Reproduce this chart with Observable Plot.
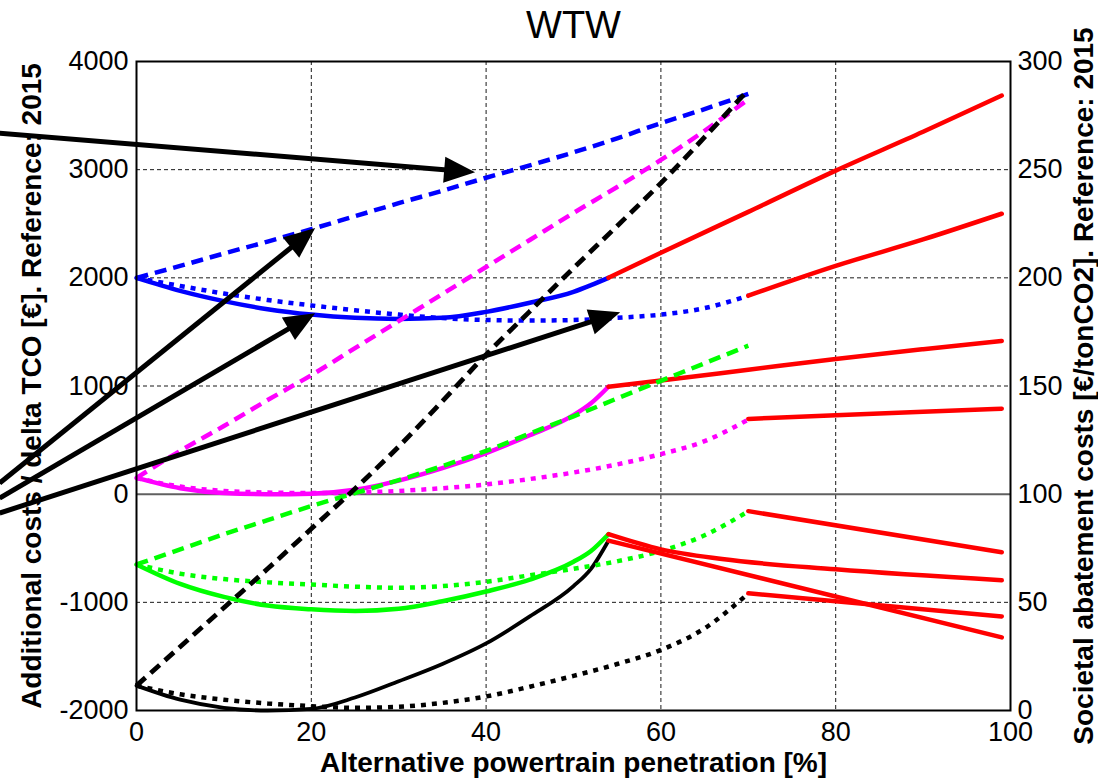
<!DOCTYPE html>
<html>
<head>
<meta charset="utf-8">
<script src="https://cdn.jsdelivr.net/npm/d3@7"></script>
<script src="https://cdn.jsdelivr.net/npm/@observablehq/plot@0.6"></script>
<style>
  html, body { margin: 0; padding: 0; background: #ffffff; }
  #chart { width: 1098px; height: 778px; }
</style>
</head>
<body>
<div id="chart"></div>
<script>
// ---------------- data ----------------
const titleText = "WTW";
const xLabel = "Alternative powertrain penetration [%]";
const yLabelLeft = "Additional costs / delta TCO [€]. Reference: 2015";
const yLabelRight = "Societal abatement costs [€/tonCO2]. Reference: 2015";

const xTicks = [0, 20, 40, 60, 80, 100];
const yTicksLeft = [-2000, -1000, 0, 1000, 2000, 3000, 4000];
const yTicksRight = [0, 50, 100, 150, 200, 250, 300];

// penetration grids (%)
const xTo54 = [0, 5, 10, 15, 20, 25, 30, 35, 40, 45, 50, 52, 54];
const xTo70 = [0, 5, 10, 15, 20, 25, 30, 35, 40, 45, 50, 55, 60, 65, 70];

// blue
const blueSolid  = [2000, 1880, 1785, 1710, 1660, 1630, 1620, 1630, 1685, 1770, 1870, 1932, 2000];
const blueDotted = [2000, 1925, 1855, 1795, 1745, 1700, 1660, 1628, 1610, 1605, 1610, 1630, 1660, 1720, 1835];
const blueDashed = [2000, 2110, 2225, 2335, 2450, 2570, 2690, 2805, 2925, 3040, 3160, 3290, 3430, 3560, 3700];
// magenta
const magentaSolid  = [150, 55, 10, 0, 5, 40, 125, 240, 380, 545, 730, 840, 993];
const magentaDotted = [150, 70, 30, 15, 10, 15, 30, 55, 90, 140, 200, 275, 370, 490, 690];
const magentaDashed = [150, 400, 630, 870, 1100, 1350, 1600, 1850, 2100, 2350, 2600, 2840, 3090, 3360, 3650];
// green
const greenSolid  = [-650, -830, -950, -1030, -1065, -1080, -1060, -990, -900, -790, -625, -525, -370];
const greenDotted = [-650, -735, -785, -815, -835, -855, -865, -850, -810, -750, -690, -620, -525, -380, -158];
const greenDashed = [-650, -510, -370, -240, -110, 10, 130, 260, 400, 560, 720, 885, 1048, 1210, 1373];
// black
const blackSolid  = [-1770, -1900, -1975, -2000, -1985, -1880, -1730, -1570, -1380, -1130, -850, -690, -430];
const blackDotted = [-1770, -1850, -1900, -1935, -1960, -1975, -1965, -1930, -1870, -1780, -1680, -1570, -1440, -1240, -918];
const blackDashed = [-1770, -1410, -1050, -690, -320, 50, 440, 860, 1290, 1690, 2090, 2480, 2876, 3300, 3740];

// red continuations
const xRedBlueSolid = [54, 60, 70, 80, 90, 99];
const redBlueSolid  = [2000, 2232, 2610, 2991, 3350, 3685];
const xRedMagentaSolid = [54, 60, 70, 80, 90, 99];
const redMagentaSolid  = [993, 1050, 1150, 1250, 1340, 1417];
const xRedGreenSolid = [54, 60, 67, 80, 99];
const redGreenSolid  = [-370, -510, -600, -695, -796];
const xRedBlackSolid = [54, 99];
const redBlackSolid  = [-430, -1324];
const xRedBlueDotted = [70, 80, 90, 99];
const redBlueDotted  = [1835, 2110, 2355, 2593];
const xRedMagentaDotted = [70, 80, 90, 99];
const redMagentaDotted  = [696, 730, 762, 790];
const xRedGreenDotted = [70, 99];
const redGreenDotted  = [-157, -537];
const xRedBlackDotted = [70, 99];
const redBlackDotted  = [-917, -1130];

// annotation arrows (start -> tip), data units
const arrowX1 = [-15.6, -15.6, -15.6, -15.6];
const arrowY1 = [3333, 98, -41, -179];
const arrowX2 = [38.8, 20.5, 20.5, 55.4];
const arrowY2 = [2971, 2455, 1669, 1677];

// ---------------- styles ----------------
const FONT = "'Liberation Sans', Arial, Helvetica, sans-serif";
const DASH = "12,7";
const DOT = "5,6";

const seriesDefs = [
  {x: xTo54, y: blackSolid, stroke: "#000000", dash: null, w: 3.8, smooth: true},
  {x: xTo70, y: blackDotted, stroke: "#000000", dash: DOT, w: 4.5, smooth: true},
  {x: xTo54, y: greenSolid, stroke: "#00ff00", dash: null, w: 4.5, smooth: true},
  {x: xTo70, y: greenDotted, stroke: "#00ff00", dash: DOT, w: 4.5, smooth: true},
  {x: xTo54, y: magentaSolid, stroke: "#ff00ff", dash: null, w: 4.5, smooth: true},
  {x: xTo70, y: magentaDotted, stroke: "#ff00ff", dash: DOT, w: 4.5, smooth: true},
  {x: xTo54, y: blueSolid, stroke: "#0000ff", dash: null, w: 4.5, smooth: true},
  {x: xTo70, y: blueDotted, stroke: "#0000ff", dash: DOT, w: 4.5, smooth: true},
  {x: xRedBlueSolid, y: redBlueSolid, stroke: "#ff0000", dash: null, w: 4.5, smooth: true},
  {x: xRedMagentaSolid, y: redMagentaSolid, stroke: "#ff0000", dash: null, w: 4.5, smooth: true},
  {x: xRedGreenSolid, y: redGreenSolid, stroke: "#ff0000", dash: null, w: 4.5, smooth: true},
  {x: xRedBlackSolid, y: redBlackSolid, stroke: "#ff0000", dash: null, w: 4.5, smooth: false},
  {x: xRedBlueDotted, y: redBlueDotted, stroke: "#ff0000", dash: null, w: 4.5, smooth: true},
  {x: xRedMagentaDotted, y: redMagentaDotted, stroke: "#ff0000", dash: null, w: 4.5, smooth: true},
  {x: xRedGreenDotted, y: redGreenDotted, stroke: "#ff0000", dash: null, w: 4.5, smooth: false},
  {x: xRedBlackDotted, y: redBlackDotted, stroke: "#ff0000", dash: null, w: 4.5, smooth: false},
  {x: xTo70, y: greenDashed, stroke: "#00ff00", dash: DASH, w: 4.5, smooth: true},
  {x: xTo70, y: magentaDashed, stroke: "#ff00ff", dash: DASH, w: 4.5, smooth: true},
  {x: xTo70, y: blueDashed, stroke: "#0000ff", dash: DASH, w: 4.5, smooth: true},
  {x: xTo70, y: blackDashed, stroke: "#000000", dash: DASH, w: 4.8, smooth: true}
];

const lineMarks = seriesDefs.map(s => {
  const rows = s.x.map((x, i) => ({x, y: s.y[i]}));
  const opts = {x: "x", y: "y", stroke: s.stroke, strokeWidth: s.w, strokeLinejoin: "round"};
  if (s.smooth) opts.curve = "monotone-x";
  if (s.dash) { opts.strokeDasharray = s.dash; opts.strokeLinecap = "butt"; }
  else opts.strokeLinecap = "round";
  return Plot.line(rows, opts);
});

// filled-head arrows drawn through the plot's own scales
function arrowMark(index, scales) {
  const g = d3.create("svg:g").attr("aria-label", "arrows");
  for (let i = 0; i < arrowX1.length; i++) {
    const x1 = scales.x(arrowX1[i]), y1 = scales.y(arrowY1[i]);
    const x2 = scales.x(arrowX2[i]), y2 = scales.y(arrowY2[i]);
    const dx = x2 - x1, dy = y2 - y1, len = Math.hypot(dx, dy);
    const ux = dx / len, uy = dy / len;
    const L = 31, W = 13;
    const bx = x2 - ux * L, by = y2 - uy * L;
    g.append("line")
      .attr("x1", x1).attr("y1", y1).attr("x2", bx + ux * 3).attr("y2", by + uy * 3)
      .attr("stroke", "#000").attr("stroke-width", 5);
    g.append("path")
      .attr("d", `M${x2},${y2}L${bx - uy * W},${by + ux * W}L${bx + uy * W},${by - ux * W}Z`)
      .attr("fill", "#000");
  }
  return g.node();
}

const chart = Plot.plot({
  width: 1098,
  height: 778,
  marginLeft: 136,
  marginRight: 88,
  marginTop: 61,
  marginBottom: 68,
  style: {fontFamily: FONT, background: "#ffffff", color: "#000"},
  x: {domain: [0, 100], label: null},
  y: {domain: [-2000, 4000], label: null},
  marks: [
    Plot.gridX(xTicks.slice(1, -1), {stroke: "#000", strokeOpacity: 0.9, strokeWidth: 1, strokeDasharray: "4,3"}),
    Plot.gridY(yTicksLeft.filter(v => v !== 0 && v !== 4000 && v !== -2000), {stroke: "#000", strokeOpacity: 0.9, strokeWidth: 1, strokeDasharray: "4,3"}),
    Plot.ruleY([0], {stroke: "#606060", strokeWidth: 2}),
    ...lineMarks,
    arrowMark,
    Plot.frame({stroke: "#000", strokeWidth: 2}),
    Plot.axisX(xTicks, {anchor: "bottom", tickSize: 0, tickPadding: 11, fontSize: 27, tickFormat: d => String(d), label: null}),
    Plot.axisY(yTicksLeft, {anchor: "left", tickSize: 0, tickPadding: 8, fontSize: 27, tickFormat: d => String(d), label: null}),
    Plot.axisY(yTicksRight.map(v => v * 20 - 2000), {anchor: "right", tickSize: 0, tickPadding: 7, fontSize: 27, tickFormat: d => String((d + 2000) / 20), label: null}),
    Plot.text([titleText], {frameAnchor: "top", textAnchor: "middle", lineAnchor: "middle", dy: -36, fontSize: 38, fill: "#000"}),
    Plot.text([xLabel], {frameAnchor: "bottom", textAnchor: "middle", lineAnchor: "middle", dy: 53, fontSize: 28, fontWeight: "bold", fill: "#000"}),
    Plot.text([yLabelLeft], {frameAnchor: "left", textAnchor: "middle", lineAnchor: "middle", dx: -104, rotate: -90, fontSize: 28, fontWeight: "bold", fill: "#000"}),
    Plot.text([yLabelRight], {frameAnchor: "right", textAnchor: "middle", lineAnchor: "middle", dx: 74, rotate: -90, fontSize: 28, fontWeight: "bold", fill: "#000"})
  ]
});

document.getElementById("chart").appendChild(chart);
</script>
</body>
</html>
